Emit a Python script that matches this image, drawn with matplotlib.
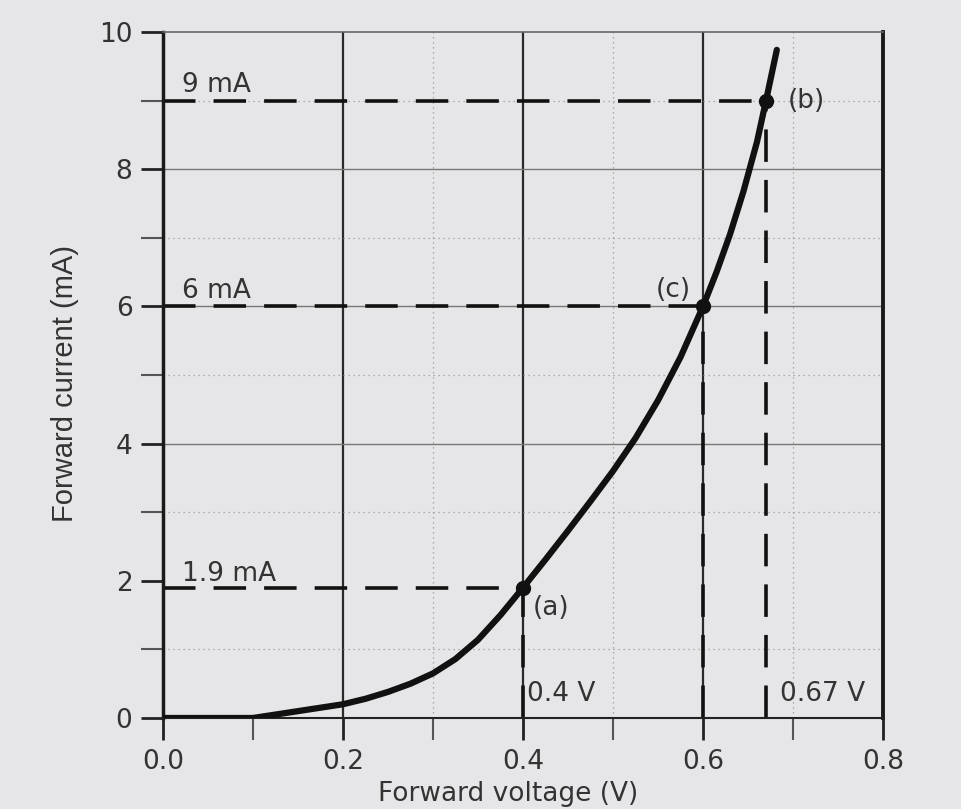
import numpy as np
import matplotlib.pyplot as plt

plt.rcParams['font.family'] = ['DejaVu Sans']

# curva del diodo
volts = [0.0, 0.100, 0.125, 0.150, 0.175, 0.200, 0.225, 0.250, 0.275, 0.300,
         0.325, 0.350, 0.375, 0.400, 0.425, 0.450, 0.475, 0.500, 0.525, 0.550,
         0.575, 0.600, 0.615, 0.630, 0.645, 0.660, 0.670, 0.682]
amps = [0.0, 0.0, 0.05, 0.10, 0.15, 0.20, 0.28, 0.38, 0.50, 0.65,
        0.86, 1.14, 1.50, 1.90, 2.31, 2.73, 3.16, 3.60, 4.08, 4.63,
        5.26, 6.0, 6.5, 7.05, 7.68, 8.4, 9.0, 9.74]

# puntos marcados
pt_names = ['(a)', '(c)', '(b)']
pt_v = [0.4, 0.6, 0.67]
pt_i = [1.9, 6.0, 9.0]
i_labels = ['1.9 mA', '6 mA', '9 mA']
v_labels = ['0.4 V', None, '0.67 V']

bg = '#e6e6e8'
txt = '#333333'

fig = plt.figure(figsize=(9.62, 8.09), dpi=100, facecolor=bg)
ax = fig.add_axes([0.1694, 0.1125, 0.7485, 0.8479], facecolor=bg)

ax.set_xlim(0, 0.8)
ax.set_ylim(0, 10)

# rejilla
for v in [0.2, 0.4, 0.6]:
    ax.axvline(v, color='#2a2a2a', lw=1.6, zorder=1)
for v in [0.3, 0.5, 0.7]:
    ax.axvline(v, color='#999999', lw=0.9, ls=(0, (1, 3)), zorder=1)
for y in [4, 6, 8]:
    ax.axhline(y, color='#777777', lw=1.0, zorder=1)
for y in [1, 3, 5, 7, 9]:
    ax.axhline(y, color='#999999', lw=0.9, ls=(0, (1, 3)), zorder=1)

# líneas de trazos
for v, i in zip(pt_v, pt_i):
    ax.plot([0, v], [i, i], color='#111111', lw=2.6, ls=(0, (9, 5)), zorder=2)
    ax.plot([v, v], [0, i], color='#111111', lw=2.6, ls=(0, (9, 5)), zorder=2)

# curva
ax.plot(volts, amps, color='#111111', lw=4.5, solid_capstyle='round',
        solid_joinstyle='round', zorder=3)
ax.plot(pt_v, pt_i, 'o', color='#111111', ms=10, zorder=4)

fs = 19
ax.text(0.021, 9.12, i_labels[2], fontsize=fs, color=txt, ha='left', va='baseline')
ax.text(0.021, 6.12, i_labels[1], fontsize=fs, color=txt, ha='left', va='baseline')
ax.text(0.021, 2.0, i_labels[0], fontsize=fs, color=txt, ha='left', va='baseline')
ax.text(0.411, 1.6, pt_names[0], fontsize=fs, color=txt, ha='left', va='center')
ax.text(0.587, 6.24, pt_names[1], fontsize=fs, color=txt, ha='right', va='center')
ax.text(0.694, 9.0, pt_names[2], fontsize=fs, color=txt, ha='left', va='center')
ax.text(0.404, 0.25, v_labels[0], fontsize=fs, color=txt, ha='left', va='baseline')
ax.text(0.686, 0.25, v_labels[2], fontsize=fs, color=txt, ha='left', va='baseline')

# ejes
ax.set_xticks([0.0, 0.2, 0.4, 0.6, 0.8])
ax.set_xticklabels(['0.0', '0.2', '0.4', '0.6', '0.8'])
ax.set_xticks([0.1, 0.3, 0.5, 0.7], minor=True)
ax.set_yticks([0, 2, 4, 6, 8, 10])
ax.set_yticks([1, 3, 5, 7, 9], minor=True)
ax.tick_params(which='major', direction='out', length=16, width=2, color='#222222',
               labelsize=fs, labelcolor=txt, pad=6)
ax.tick_params(which='minor', direction='out', length=16, width=1.5, color='#555555')

ax.spines['left'].set_linewidth(2.5)
ax.spines['left'].set_color('#1a1a1a')
ax.spines['right'].set_linewidth(2.8)
ax.spines['right'].set_color('#1a1a1a')
ax.spines['top'].set_linewidth(1.2)
ax.spines['top'].set_color('#666666')
ax.spines['bottom'].set_linewidth(1.5)
ax.spines['bottom'].set_color('#222222')

ax.set_xlabel('Forward voltage (V)', fontsize=19, color=txt)
ax.xaxis.set_label_coords(0.479, -0.092)
ax.xaxis.label.set_va('top')
ax.set_ylabel('Forward current (mA)', fontsize=21, color=txt,
              family=['Liberation Sans', 'DejaVu Sans'])
ax.yaxis.set_label_coords(-0.136, 0.488)
ax.yaxis.label.set_va('center')

fig.savefig('out.png', dpi=100, facecolor=bg)
